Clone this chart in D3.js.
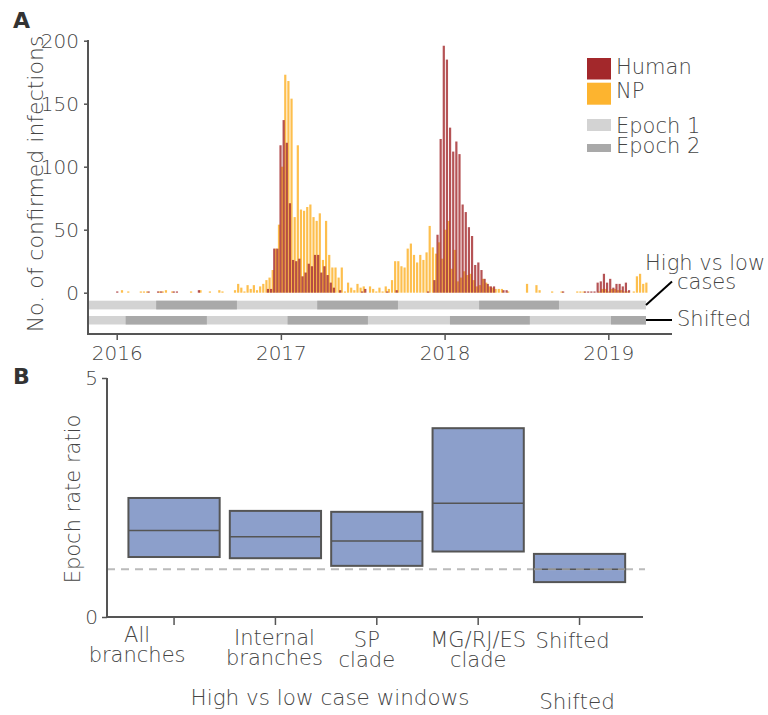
<!DOCTYPE html>
<html>
<head>
<meta charset="utf-8">
<script src="https://d3js.org/d3.v7.min.js"></script>
<style>
  body { margin: 0; background: #fff; }
  text { font-family: 'DejaVu Sans', 'Liberation Sans', sans-serif; font-weight: 300; fill: #454545; }
</style>
</head>
<body>
<svg id="chart" width="768" height="715"></svg>

<script>

// weekly confirmed infections, first week starts 2016-01-04
var firstWeek = '2016-01-04';
var human = [
  1,0,0,0,0,0,0,0,0,0,
  1,0,0,1,1,0,0,0,1,1,
  0,0,0,0,0,0,2,0,0,0,
  0,0,0,0,0,0,0,0,0,0,
  0,0,0,0,0,0,0,0,3,3,
  35,35,117,137,119,71,26,25,27,13,
  16,23,21,30,30,16,21,14,8,4,
  0,2,0,0,0,0,0,0,1,3,
  0,0,0,0,0,0,1,0,0,2,
  0,0,0,0,0,0,0,0,0,1,
  0,10,46,122,196,185,131,112,120,110,
  70,64,52,45,22,24,18,11,7,5,
  5,0,0,2,2,0,0,0,0,0,
  0,0,0,0,0,0,0,0,0,0,
  0,0,1,0,0,0,0,0,0,1,
  1,1,1,8,9,15,8,11,4,7,
  7,5,8,2,0,0,0,0,0
];
var np = [
  0,2,0,1,0,0,0,1,1,1,
  0,0,0,1,1,2,0,1,0,0,
  0,0,0,1,0,0,2,0,0,1,
  0,0,2,1,0,0,0,2,7,4,
  1,6,3,6,2,5,7,10,12,18,
  35,54,100,173,168,154,60,117,66,65,
  68,70,60,57,63,26,57,30,20,20,
  12,20,1,8,4,2,7,4,5,0,
  5,3,1,4,1,5,3,10,25,25,
  21,20,35,39,30,24,30,26,32,53,
  36,31,40,27,50,57,19,34,9,12,
  17,14,15,10,5,6,11,8,5,4,
  3,3,3,0,1,0,0,0,0,0,
  7,0,0,6,2,0,0,0,1,0,
  0,1,0,0,0,0,1,1,1,0,
  0,0,0,1,3,3,1,3,3,2,
  2,1,1,0,1,13,15,7,8
];
var countTicks = [0, 50, 100, 150, 200];
var yearTicks = ['2016-01-01', '2017-01-01', '2018-01-01', '2019-01-01'];

// epoch 2 windows (everything else is epoch 1)
var highLowEpoch2 = [['2016-03-29','2016-09-25'], ['2017-03-23','2017-09-19'], ['2018-03-19','2018-09-13']];
var shiftedEpoch2 = [['2016-01-21','2016-07-20'], ['2017-01-16','2017-07-14'], ['2018-01-13','2018-07-10'], ['2019-01-07','2019-03-26']];

// panel B: epoch rate ratio (lower, median, upper)
var categories = ['All branches', 'Internal branches', 'SP clade', 'MG/RJ/ES clade', 'Shifted'];
var ratioLow = [1.255, 1.23, 1.07, 1.37, 0.73];
var ratioMid = [1.81, 1.68, 1.59, 2.38, 1.0];
var ratioHigh = [2.49, 2.22, 2.2, 3.95, 1.32];
var ratioTicks = [0, 5];


var parse = d3.timeParse('%Y-%m-%d');
var svg = d3.select('#chart');

var humanColor = '#a3282b';
var npColor = '#fdb42f';
var light = '#d3d3d3';
var dark = '#a9a9a9';
var axisColor = '#555';

//scales panel A
var x = d3.scaleTime()
  .domain([parse('2015-10-29'), parse('2019-03-26')])
  .range([88, 646]);
var y = d3.scaleLinear()
  .domain([0, 200])
  .range([292.7, 40.7]);

var weeks = human.map(function(d, i) { return d3.timeDay.offset(parse(firstWeek), 7 * i); });

// NP bars (behind)
svg.append('g')
  .selectAll('rect')
  .data(np)
  .enter()
  .append('rect')
  .attr('x', function(d, i) { return x(weeks[i]) - 0.3; })
  .attr('y', function(d) { return y(d); })
  .attr('width', 2.2)
  .attr('height', function(d) { return y(0) - y(d); })
  .attr('fill', npColor)
  .attr('fill-opacity', 0.85);

// Human bars
svg.append('g')
  .selectAll('rect')
  .data(human)
  .enter()
  .append('rect')
  .attr('x', function(d, i) { return x(weeks[i]) - 1.9; })
  .attr('y', function(d) { return y(d); })
  .attr('width', 2.2)
  .attr('height', function(d) { return y(0) - y(d); })
  .attr('fill', humanColor)
  .attr('fill-opacity', 0.8);

// epoch strips
function epochRow(windows, top, h) {
  svg.append('rect')
    .attr('x', x.range()[0] + 1)
    .attr('y', top)
    .attr('width', x.range()[1] - x.range()[0] - 1)
    .attr('height', h)
    .attr('fill', light);
  svg.append('g')
    .selectAll('rect')
    .data(windows)
    .enter()
    .append('rect')
    .attr('x', function(d) { return x(parse(d[0])); })
    .attr('y', top)
    .attr('width', function(d) { return x(parse(d[1])) - x(parse(d[0])); })
    .attr('height', h)
    .attr('fill', dark);
}
epochRow(highLowEpoch2, 300.7, 8.7);
epochRow(shiftedEpoch2, 316, 8.5);

// connectors + row labels
svg.append('line')
  .attr('x1', 646).attr('y1', 305).attr('x2', 672).attr('y2', 281.5)
  .attr('stroke', 'black').attr('stroke-width', 2);
svg.append('line')
  .attr('x1', 646).attr('y1', 320).attr('x2', 672).attr('y2', 320)
  .attr('stroke', 'black').attr('stroke-width', 2);

svg.append('text').attr('x', 645).attr('y', 269.5).style('font-size', '21px').text('High vs low');
svg.append('text').attr('x', 677).attr('y', 288.5).style('font-size', '21px').text('cases');
svg.append('text').attr('x', 677).attr('y', 326).style('font-size', '21px').text('Shifted');

// y axis A
var yAxis = svg.append('g')
  .attr('transform', 'translate(88,0)')
  .call(d3.axisLeft(y).tickValues(countTicks).tickSize(4).tickPadding(5));
yAxis.select('.domain').remove();
yAxis.selectAll('line').attr('stroke', axisColor).attr('stroke-width', 1.5);
yAxis.selectAll('text').style('font-size', '20px').style('font-family', null).attr('fill', null);
svg.append('line')
  .attr('x1', 88).attr('y1', 40).attr('x2', 88).attr('y2', 335)
  .attr('stroke', axisColor).attr('stroke-width', 2);

// x axis A
var xAxis = svg.append('g')
  .attr('transform', 'translate(0,334)')
  .call(d3.axisBottom(x).tickValues(yearTicks.map(parse)).tickFormat(d3.timeFormat('%Y')).tickSize(6).tickPadding(6));
xAxis.select('.domain').remove();
xAxis.selectAll('line').attr('stroke', axisColor).attr('stroke-width', 1.5);
xAxis.selectAll('text').style('font-size', '20px').style('font-family', null).attr('fill', null);
svg.append('line')
  .attr('x1', 87).attr('y1', 334).attr('x2', 672).attr('y2', 334)
  .attr('stroke', axisColor).attr('stroke-width', 2);

svg.append('text')
  .attr('transform', 'translate(43,184) rotate(-90)')
  .attr('text-anchor', 'middle')
  .style('font-size', '22px')
  .text('No. of confirmed infections');

svg.append('text').attr('x', 13).attr('y', 28)
  .style('font-size', '22px').style('font-weight', 'bold').style('fill', '#333').text('A');

// legend
var legend = [
  {label: 'Human', color: humanColor, y: 58, h: 21.5, ty: 74},
  {label: 'NP', color: npColor, y: 82.7, h: 22, ty: 98},
  {label: 'Epoch 1', color: light, y: 119, h: 12, ty: 133},
  {label: 'Epoch 2', color: dark, y: 144, h: 8, ty: 153}
];
svg.append('g').selectAll('rect').data(legend).enter().append('rect')
  .attr('x', 587).attr('y', function(d) { return d.y; })
  .attr('width', 24).attr('height', function(d) { return d.h; })
  .attr('fill', function(d) { return d.color; });
svg.append('g').selectAll('text').data(legend).enter().append('text')
  .attr('x', 616).attr('y', function(d) { return d.ty; })
  .style('font-size', '21px')
  .text(function(d) { return d.label; });


// ---------------- panel B ----------------
var yB = d3.scaleLinear().domain([0, 5]).range([617, 378]);
var xB = d3.scaleBand().domain(categories).range([118.3, 635.3]).padding(0.1);

svg.append('line')
  .attr('x1', 107).attr('y1', yB(1)).attr('x2', 645).attr('y2', yB(1))
  .attr('stroke', '#bbb').attr('stroke-width', 2).attr('stroke-dasharray', '8,6');

var boxes = svg.append('g').selectAll('g').data(categories).enter().append('g');
boxes.append('rect')
  .attr('x', function(d) { return xB(d); })
  .attr('y', function(d, i) { return yB(ratioHigh[i]); })
  .attr('width', xB.bandwidth())
  .attr('height', function(d, i) { return yB(ratioLow[i]) - yB(ratioHigh[i]); })
  .attr('fill', '#8c9fcb')
  .attr('stroke', '#555')
  .attr('stroke-width', 2);
boxes.append('line')
  .attr('x1', function(d) { return xB(d); })
  .attr('x2', function(d) { return xB(d) + xB.bandwidth(); })
  .attr('y1', function(d, i) { return yB(ratioMid[i]); })
  .attr('y2', function(d, i) { return yB(ratioMid[i]); })
  .attr('stroke', '#555')
  .attr('stroke-width', 1.5);

// dashed line shows through the shifted box
svg.append('line')
  .attr('x1', xB('Shifted')).attr('y1', yB(1)).attr('x2', xB('Shifted') + xB.bandwidth()).attr('y2', yB(1))
  .attr('stroke', '#bbb').attr('stroke-width', 2).attr('stroke-dasharray', '8,6').attr('stroke-opacity', 0.6);

var yAxisB = svg.append('g')
  .attr('transform', 'translate(107,0)')
  .call(d3.axisLeft(yB).tickValues(ratioTicks).tickFormat(d3.format('d')).tickSize(5).tickPadding(4));
yAxisB.select('.domain').remove();
yAxisB.selectAll('line').attr('stroke', axisColor).attr('stroke-width', 1.5);
yAxisB.selectAll('text').style('font-size', '20px').style('font-family', null).attr('fill', null);
svg.append('line')
  .attr('x1', 107).attr('y1', 378).attr('x2', 107).attr('y2', 618)
  .attr('stroke', axisColor).attr('stroke-width', 2);

var xAxisB = svg.append('g')
  .attr('transform', 'translate(0,617)')
  .call(d3.axisBottom(xB).tickSize(8).tickFormat(''));
xAxisB.select('.domain').remove();
xAxisB.selectAll('line').attr('stroke', axisColor).attr('stroke-width', 1.5);
svg.append('line')
  .attr('x1', 106).attr('y1', 617).attr('x2', 643).attr('y2', 617)
  .attr('stroke', axisColor).attr('stroke-width', 2);

// category labels, slightly shifted from the ticks like the original
var labelShift = [-37, -1, -10, 0, -7];
var labelTop = [642, 645, 647, 647, 648];
svg.append('g').selectAll('text').data(categories).enter().append('text')
  .attr('text-anchor', 'middle')
  .style('font-size', '21px')
  .attr('transform', function(d, i) {
    return 'translate(' + (xB(d) + xB.bandwidth() / 2 + labelShift[i]) + ',' + labelTop[i] + ')';
  })
  .each(function(d) {
    var words = d === 'Shifted' ? [d] : [d.slice(0, d.lastIndexOf(' ')), d.slice(d.lastIndexOf(' ') + 1)];
    var t = d3.select(this);
    words.forEach(function(w, j) {
      t.append('tspan').attr('x', 0).attr('dy', j === 0 ? 0 : 19.5).text(w);
    });
  });

svg.append('text').attr('x', 330).attr('y', 705).attr('text-anchor', 'middle')
  .style('font-size', '21.5px').text('High vs low case windows');
svg.append('text').attr('x', 577).attr('y', 709).attr('text-anchor', 'middle')
  .style('font-size', '21.5px').text('Shifted');

svg.append('text')
  .attr('transform', 'translate(80,499) rotate(-90)')
  .attr('text-anchor', 'middle')
  .style('font-size', '21px')
  .text('Epoch rate ratio');

svg.append('text').attr('x', 13).attr('y', 384)
  .style('font-size', '22px').style('font-weight', 'bold').style('fill', '#333').text('B');

</script>
</body>
</html>
